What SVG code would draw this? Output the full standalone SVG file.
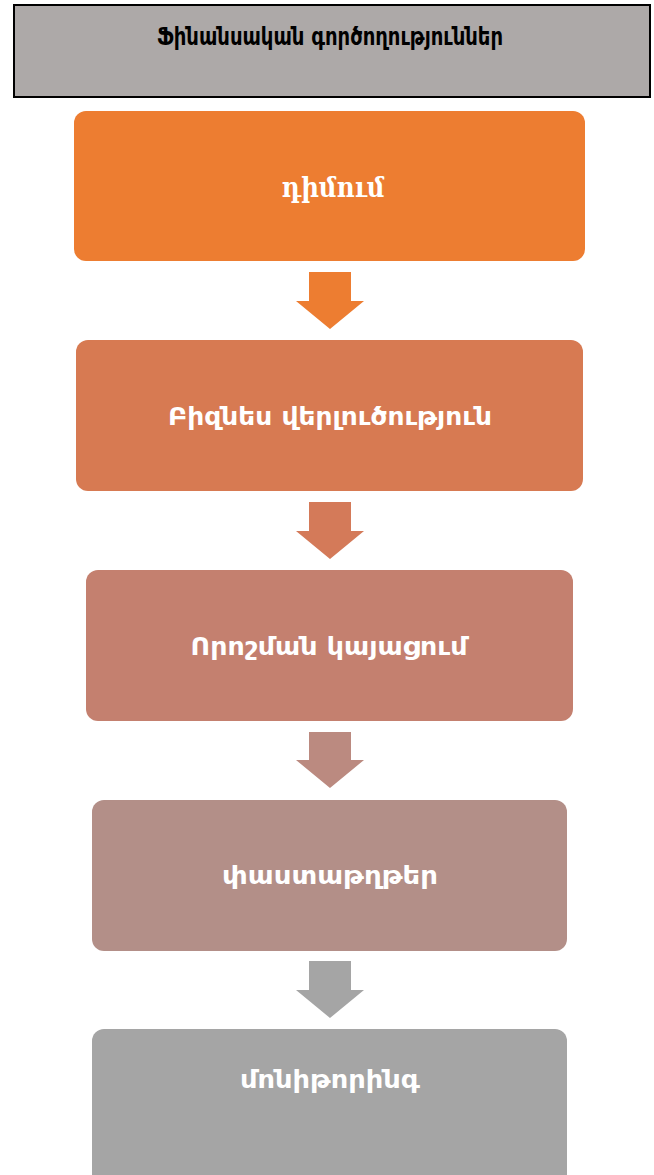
<svg xmlns="http://www.w3.org/2000/svg" width="654" height="1175" viewBox="0 0 654 1175">
<style>
.lbl{font-family:"DejaVu Sans","Noto Sans",sans-serif;font-weight:bold;fill:#ffffff;text-anchor:middle;font-size:25px}
.ser{font-family:"DejaVu Serif","Noto Serif",serif;font-weight:bold;fill:#ffffff;text-anchor:middle;font-size:27px}
.ttl{font-family:"DejaVu Sans","Noto Sans",sans-serif;font-weight:bold;fill:#000000;text-anchor:middle;font-size:24px}
</style>
<rect width="654" height="1175" fill="#ffffff"/>
<g id="title">
<rect x="14" y="5" width="636" height="92" fill="#ADA9A8" stroke="#000000" stroke-width="2"/>
<text class="ttl" x="330" y="45" textLength="346" lengthAdjust="spacingAndGlyphs">Ֆինանսական գործողություններ</text>
</g>
<g id="node1">
<rect x="74" y="111" width="511" height="150" rx="12" fill="#ED7D31"/>
<text class="ser" x="333" y="197" textLength="103" lengthAdjust="spacingAndGlyphs">դիմում</text>
</g>
<g id="node2">
<rect x="76" y="340" width="507" height="151" rx="12" fill="#D77A52"/>
<text class="lbl" x="330" y="425" textLength="324" lengthAdjust="spacingAndGlyphs">Բիզնես վերլուծություն</text>
</g>
<g id="node3">
<rect x="86" y="570" width="487" height="151" rx="12" fill="#C4806F"/>
<text class="lbl" x="329" y="655" textLength="277" lengthAdjust="spacingAndGlyphs">Որոշման կայացում</text>
</g>
<g id="node4">
<rect x="92" y="800" width="475" height="151" rx="12" fill="#B38F88"/>
<text class="lbl" x="330" y="884" textLength="216" lengthAdjust="spacingAndGlyphs">փաստաթղթեր</text>
</g>
<g id="node5">
<rect x="92" y="1029" width="475" height="160" rx="12" fill="#A5A5A5"/>
<text class="lbl" x="330" y="1088" textLength="180" lengthAdjust="spacingAndGlyphs">մոնիթորինգ</text>
</g>
<g id="connectors">
<path d="M309 272H351V301H364L330 329L296 301H309Z" fill="#ED7D31"/>
<path d="M309 502H351V531H364L330 559L296 531H309Z" fill="#D47A59"/>
<path d="M309 732H351V760H364L330 788L296 760H309Z" fill="#BB8A80"/>
<path d="M309 961H351V990H364L330 1018L296 990H309Z" fill="#A5A5A5"/>
</g>
</svg>
